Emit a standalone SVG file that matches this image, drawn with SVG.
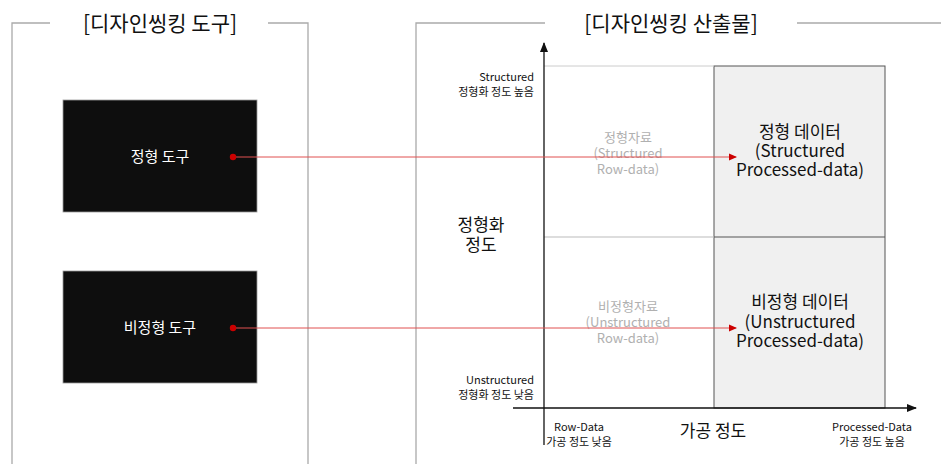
<svg xmlns="http://www.w3.org/2000/svg" width="941" height="464" viewBox="0 0 941 464">
<defs>
<style>
text{font-family:"Noto Sans CJK KR","Noto Sans",sans-serif;}
.frame{fill:none;stroke:#aaa;stroke-width:1.3;}
.title{font-size:21px;fill:#111;text-anchor:middle;}
.tool{fill:#0e0e0e;stroke:#999;stroke-width:0.8;}
.toollbl{font-size:15px;fill:#fff;text-anchor:middle;}
.conn{stroke:#e05050;stroke-width:1;fill:none;}
.dot{fill:#cc0000;}
.axis{stroke:#111;stroke-width:1.3;fill:none;}
.small{font-size:11px;fill:#111;}
.axlbl{font-size:17px;fill:#111;text-anchor:middle;}
.gray{font-size:13px;fill:#b0b0b0;text-anchor:middle;}
.big{font-size:17px;fill:#111;text-anchor:middle;}
</style>
<marker id="redArrow" markerWidth="8" markerHeight="8" refX="7" refY="4" orient="auto" markerUnits="userSpaceOnUse">
<path d="M0,0.5 L8,4 L0,7.5 Z" fill="#cc0000"/>
</marker>
<marker id="blackArrow" markerWidth="10" markerHeight="10" refX="9" refY="5" orient="auto" markerUnits="userSpaceOnUse">
<path d="M0,1 L10,5 L0,9 Z" fill="#111"/>
</marker>
</defs>

<g id="left-panel">
<path class="frame" d="M12,464 V23 H50 M268,23 H308 V464"/>
<text class="title" x="160" y="31">[디자인씽킹 도구]</text>
</g>

<g id="right-panel">
<path class="frame" d="M416,464 V23 H545 M797,23 H941"/>
<text class="title" x="671" y="31">[디자인씽킹 산출물]</text>
</g>

<g id="tool-structured">
<rect class="tool" x="63" y="100" width="194" height="112"/>
<text class="toollbl" x="160" y="162">정형 도구</text>
</g>

<g id="tool-unstructured">
<rect class="tool" x="63" y="271" width="194" height="112"/>
<text class="toollbl" x="160" y="333">비정형 도구</text>
</g>

<g id="chart">
<rect x="714" y="66" width="171" height="342" fill="#f0f0f0" stroke="#555" stroke-width="1"/>
<line x1="544" y1="66" x2="714" y2="66" stroke="#ccc" stroke-width="1"/>
<line x1="544" y1="237" x2="714" y2="237" stroke="#bbb" stroke-width="1"/>
<line x1="714" y1="237" x2="885" y2="237" stroke="#555" stroke-width="1"/>
<line class="axis" x1="544" y1="445" x2="544" y2="43" marker-end="url(#blackArrow)"/>
<line class="axis" x1="513" y1="408" x2="916" y2="408" marker-end="url(#blackArrow)"/>
</g>

<g id="axis-labels">
<text class="small" text-anchor="end"><tspan x="534" y="81">Structured</tspan><tspan x="534" y="96">정형화 정도 높음</tspan></text>
<text class="small" text-anchor="end"><tspan x="534" y="384">Unstructured</tspan><tspan x="534" y="399">정형화 정도 낮음</tspan></text>
<text class="axlbl"><tspan x="481" y="231">정형화</tspan><tspan x="481" y="251">정도</tspan></text>
<text class="small" text-anchor="middle"><tspan x="579" y="431">Row-Data</tspan><tspan x="579" y="446">가공 정도 낮음</tspan></text>
<text class="axlbl" x="713" y="437">가공 정도</text>
<text class="small" text-anchor="middle"><tspan x="872" y="431">Processed-Data</tspan><tspan x="872" y="446">가공 정도 높음</tspan></text>
</g>

<g id="raw-structured">
<text class="gray"><tspan x="628" y="142">정형자료</tspan><tspan x="628" y="158">(Structured</tspan><tspan x="628" y="174">Row-data)</tspan></text>
</g>

<g id="raw-unstructured">
<text class="gray"><tspan x="628" y="311">비정형자료</tspan><tspan x="628" y="327">(Unstructured</tspan><tspan x="628" y="343">Row-data)</tspan></text>
</g>

<g id="processed-structured">
<text class="big"><tspan x="800" y="138">정형 데이터</tspan><tspan x="800" y="157">(Structured</tspan><tspan x="800" y="176">Processed-data)</tspan></text>
</g>

<g id="processed-unstructured">
<text class="big"><tspan x="800" y="308">비정형 데이터</tspan><tspan x="800" y="328">(Unstructured</tspan><tspan x="800" y="347">Processed-data)</tspan></text>
</g>

<g id="connectors">
<line class="conn" x1="233" y1="157" x2="736" y2="157" marker-end="url(#redArrow)"/>
<circle class="dot" cx="233" cy="157" r="3.2"/>
<line class="conn" x1="233" y1="328" x2="736" y2="328" marker-end="url(#redArrow)"/>
<circle class="dot" cx="233" cy="328" r="3.2"/>
</g>
</svg>
